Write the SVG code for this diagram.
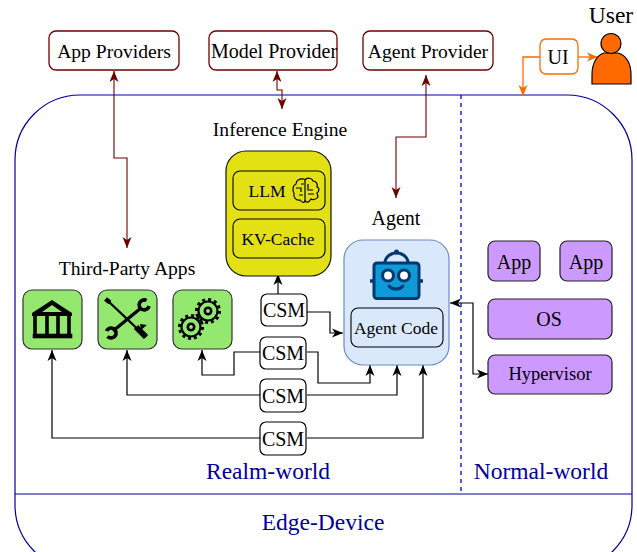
<svg xmlns="http://www.w3.org/2000/svg" width="637" height="552" viewBox="0 0 637 552">
<defs>
<marker id="ak" viewBox="0 0 12 12" refX="11" refY="6" markerWidth="12" markerHeight="12" markerUnits="userSpaceOnUse" orient="auto-start-reverse"><path d="M0 1.5L11 6L0 10.5L3 6Z" fill="#000"/></marker>
<marker id="ar" viewBox="0 0 12 12" refX="11" refY="6" markerWidth="12" markerHeight="12" markerUnits="userSpaceOnUse" orient="auto-start-reverse"><path d="M0 1.5L11 6L0 10.5L3 6Z" fill="#6f0000"/></marker>
<marker id="ao" viewBox="0 0 12 12" refX="11" refY="6" markerWidth="12" markerHeight="12" markerUnits="userSpaceOnUse" orient="auto-start-reverse"><path d="M0 1.5L11 6L0 10.5L3 6Z" fill="#ff6a00"/></marker>
</defs>
<style>
text{font-family:"Liberation Serif","Times New Roman",serif;fill:#000;text-anchor:middle}
.t17{font-size:17.5px}.t20{font-size:20px}.t19{font-size:19.6px}
.blue{fill:#000099;font-size:23.5px}
.prov{fill:#fff;stroke:#6f0000;stroke-width:1.3}
.csm{fill:#fff;stroke:#000;stroke-width:1.2}
.grn{fill:#94e86f;stroke:#333;stroke-width:1.2}
.pur{fill:#cc99ff;stroke:#222;stroke-width:1.2}
.in{fill:none;stroke:#000;stroke-width:1.1}
.k{fill:none;stroke:#000;stroke-width:1.2;marker-end:url(#ak)}
.kk{marker-start:url(#ak)}
.r{fill:none;stroke:#6f0000;stroke-width:1.1;marker-start:url(#ar);marker-end:url(#ar)}
.o{fill:none;stroke:#ff6a00;stroke-width:1.3}
</style>
<g id="edge-device">
<rect x="15" y="95" width="617" height="475" rx="65" ry="65" fill="none" stroke="#000099" stroke-width="1.2"/>
<path d="M15 494H632" stroke="#000099" stroke-width="1.2" fill="none"/>
<path d="M461 95V494" stroke="#0000cc" stroke-width="1.3" stroke-dasharray="4 4" fill="none"/>
<text class="blue" x="268" y="479">Realm-world</text>
<text class="blue" x="541" y="479">Normal-world</text>
<text class="blue" x="323" y="530">Edge-Device</text>
</g>
<g id="connectors">
<path class="r" d="M114 71V158H127V248"/>
<path class="r" d="M277 71V90H282V109"/>
<path class="r" d="M426 75V137H396V198"/>
<path class="k" d="M278 294V274"/>
<path class="k" d="M307 312H330V333H343"/>
<path class="k" d="M260 352H234V375H202V350"/>
<path class="k" d="M307 352H318V383H370V365"/>
<path class="k" d="M260 395H127V350"/>
<path class="k" d="M307 395H397V365"/>
<path class="k" d="M260 438H52V350"/>
<path class="k" d="M307 438H423V365"/>
<path class="k kk" d="M450 303H473V374H488"/>
<path class="o" d="M540 57H523V96" marker-end="url(#ao)"/>
<path class="o" d="M578 57H598" marker-end="url(#ao)"/>
</g>
<g id="app-providers"><rect class="prov" x="49" y="31" width="130" height="39" rx="7"/><text class="t19" x="114" y="58">App Providers</text></g>
<g id="model-provider"><rect class="prov" x="209" y="31" width="128" height="39" rx="7"/><text class="t20" x="274" y="58">Model Provider</text></g>
<g id="agent-provider"><rect class="prov" x="363" y="31" width="130" height="39" rx="7"/><text class="t19" x="428" y="58">Agent Provider</text></g>
<g id="ui"><rect x="540" y="39" width="38" height="35" rx="6" fill="#fff" stroke="#ff6a00" stroke-width="1.3"/><text class="t20" x="558" y="64">UI</text></g>
<g id="user">
<text x="611" y="23" style="font-size:23.5px">User</text>
<path d="M592 84V75C592 63 597 55 604 53H618C626 55 631 63 631 75V84Z" fill="#ff6a00" stroke="#000" stroke-width="1.2"/>
<circle cx="611" cy="43.500" r="10" fill="#ff6a00" stroke="#000" stroke-width="1.2"/>
</g>
<g id="inference-engine">
<text class="t19" x="280" y="136">Inference Engine</text>
<rect x="226" y="151" width="105" height="125" rx="20" fill="#e3e114" stroke="#111" stroke-width="1.2"/>
<g id="llm"><rect class="in" x="233" y="171" width="92" height="39" rx="7"/><text class="t17" x="267" y="197">LLM</text>
<g fill="none" stroke="#000" stroke-width="1.2">
<path d="M304 179C299 178 296 181 296 184C293 185 292 190 294 193C293 197 296 201 300 200C302 203 305 203 305 201V180Z"/>
<path d="M305 180C307 177 312 178 313 181C316 181 318 184 317 187C320 188 319 192 317 193L318 197C316 200 312 200 311 199C309 203 305 203 305 200"/>
<path d="M296 188H301V192M299 195H303M308 184V190H313M308 194H314M301 184H304"/>
</g></g>
<g id="kv-cache"><rect class="in" x="233" y="219" width="92" height="39" rx="7"/><text class="t17" x="278" y="245">KV-Cache</text></g>
</g>
<g id="third-party-apps">
<text class="t19" x="127" y="275">Third-Party Apps</text>
<g id="app-bank"><rect class="grn" x="23" y="290" width="59" height="59" rx="9"/>
<path d="M52 300L32 313V316H72V313Z" fill="#000"/><path d="M52 305L42 312H62Z" fill="#94e86f"/>
<path d="M35 316V334M47 316V334M58 316V334M69 316V334" stroke="#000" stroke-width="3.6" fill="none"/>
<path d="M33 334H72V338H33Z" fill="#000" stroke="#000" stroke-width="0.6"/>
</g>
<g id="app-tools"><rect class="grn" x="98" y="290" width="59" height="59" rx="9"/>
<g fill="none" stroke="#000">
<path d="M107 300L146 337" stroke-width="2.400"/><path d="M136 327L146 337" stroke-width="6"/>
<path d="M105.500 299L110 302.500" stroke-width="4.500"/>
<path d="M141 308L113 331" stroke-width="3.400"/>
<path d="M146.500 300.500A5 5 0 1 0 149 306" stroke-width="3.600"/>
<path d="M107.500 336.500A5 5 0 1 0 106.500 331" stroke-width="3.600" transform="rotate(0)"/>
</g>
<path d="M141 330L140 324L147 325Z" fill="#000"/></g>
<g id="app-gears"><rect class="grn" x="173" y="290" width="59" height="59" rx="9"/>
<g fill="none" stroke="#000">
<circle cx="208" cy="311" r="9.500" stroke-width="2.200"/><circle cx="208" cy="311" r="11.500" stroke-width="3" stroke-dasharray="3 3"/><circle cx="208" cy="311" r="3.200" stroke-width="2.600"/>
<circle cx="191" cy="327" r="9.500" stroke-width="2.200"/><circle cx="191" cy="327" r="11.500" stroke-width="3" stroke-dasharray="3 3"/><circle cx="191" cy="327" r="3.200" stroke-width="2.600"/>
</g></g>
</g>
<g id="csm-1"><rect class="csm" x="261" y="294" width="46" height="32" rx="6"/><text class="t20" x="284" y="317">CSM</text></g>
<g id="csm-2"><rect class="csm" x="260" y="337" width="46" height="32" rx="6"/><text class="t20" x="283" y="360">CSM</text></g>
<g id="csm-3"><rect class="csm" x="260" y="379" width="46" height="33" rx="6"/><text class="t20" x="283" y="403">CSM</text></g>
<g id="csm-4"><rect class="csm" x="260" y="422" width="46" height="33" rx="6"/><text class="t20" x="283" y="446">CSM</text></g>
<g id="agent">
<text class="t20" x="396" y="225">Agent</text>
<rect x="344" y="240" width="105" height="125" rx="19" fill="#dae8fc" stroke="#6c8ebf" stroke-width="1.2"/>
<g id="robot">
<path d="M385 263A11 9.500 0 0 1 408 263" fill="#dae8fc" stroke="#003a70" stroke-width="3"/>
<circle cx="396.500" cy="252" r="2.500" fill="#003a70"/>
<rect x="374" y="263" width="45" height="35.500" rx="3" fill="#0f9bd7" stroke="#003a70" stroke-width="3"/>
<path d="M370 281H374M419 281H423" stroke="#003a70" stroke-width="3.500"/>
<circle cx="388" cy="275.500" r="5.500" fill="#fff" stroke="#003a70" stroke-width="3.200"/>
<circle cx="404" cy="275.500" r="5.500" fill="#fff" stroke="#003a70" stroke-width="3.200"/>
<path d="M389 286C392 290 400 290 403 286" fill="none" stroke="#003a70" stroke-width="3" stroke-linecap="round"/>
</g>
<g id="agent-code"><rect class="in" x="351" y="308" width="92" height="39" rx="7"/><text class="t17" x="396" y="334">Agent Code</text></g>
</g>
<g id="app-a"><rect class="pur" x="488" y="241" width="52" height="40" rx="7"/><text class="t20" x="514" y="269">App</text></g>
<g id="app-b"><rect class="pur" x="560" y="241" width="52" height="40" rx="7"/><text class="t20" x="586" y="269">App</text></g>
<g id="os"><rect class="pur" x="488" y="299" width="124" height="40" rx="7"/><text class="t20" x="549" y="326">OS</text></g>
<g id="hypervisor"><rect class="pur" x="488" y="355" width="124" height="39" rx="7"/><text x="550" y="380" style="font-size:18.5px">Hypervisor</text></g>
</svg>
